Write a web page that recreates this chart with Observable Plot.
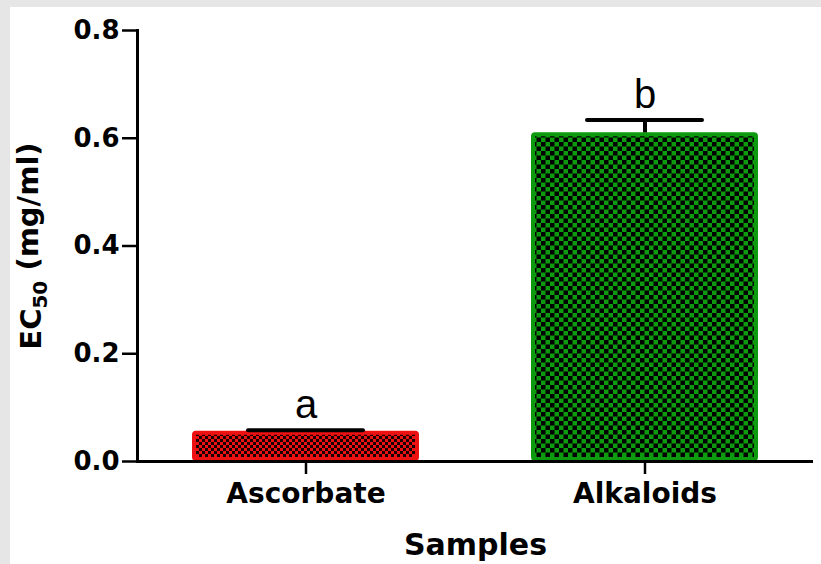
<!DOCTYPE html>
<html>
<head>
<meta charset="utf-8">
<script src="https://cdn.jsdelivr.net/npm/d3@7"></script>
<script src="https://cdn.jsdelivr.net/npm/@observablehq/plot@0.6"></script>
<style>
  html, body { margin: 0; padding: 0; background: #e6e6e6; }
  #chart { position: absolute; left: 10px; top: 7px; width: 811px; height: 557px; background: #fff; }
</style>
</head>
<body>
<div id="chart"></div>
<script>
// EC50 values (mg/ml) with error and significance letters
const samples = ["Ascorbate", "Alkaloids"];
const ec50 = [0.056, 0.61];
const errors = [0.002, 0.024];
const letters = ["a", "b"];
const barColors = ["#ee1111", "#0e9a0e"];
const patternIds = ["dots-red", "check-green"];
const yTicks = [0, 0.2, 0.4, 0.6, 0.8];
const yTitle = ["EC", "50", " (mg/ml)"];   // main, subscript, unit
const xTitle = "Samples";

const rows = samples.map((s, i) => ({
  sample: s,
  ec50: ec50[i],
  top: ec50[i] + errors[i],
  letter: letters[i]
}));

const bars = samples.map((s, i) =>
  Plot.barY([rows[i]], {
    x: "sample",
    y: "ec50",
    fill: `url(#${patternIds[i]})`,
    stroke: barColors[i],
    strokeWidth: 4,
    inset: 2,
    rx: 2
  })
);

const chart = Plot.plot({
  width: 811,
  height: 557,
  marginLeft: 127,
  marginRight: 8,
  marginTop: 23,
  marginBottom: 103,
  style: { fontFamily: "'DejaVu Sans', sans-serif", background: "white", overflow: "visible", color: "black" },
  x: { domain: samples, paddingInner: 0.33, paddingOuter: 0.16 },
  y: { domain: [0, 0.8] },
  marks: [
    ...bars,
    // error bars: stem and cap
    Plot.ruleX(rows, { x: "sample", y1: "ec50", y2: "top", strokeWidth: 4 }),
    Plot.tickY(rows, { x: "sample", y: "top", strokeWidth: 4, strokeLinecap: "round", insetLeft: 56, insetRight: 56 }),
    // significance letters
    Plot.text(rows, {
      x: "sample", y: "top", text: "letter",
      lineAnchor: "bottom", dy: -12,
      fontSize: 40, fontFamily: "'Liberation Sans', sans-serif", fontWeight: "normal"
    }),
    Plot.axisY({
      ticks: yTicks, tickFormat: ".1f", tickSize: 15, tickPadding: 3,
      fontSize: 26, fontWeight: "bold", strokeWidth: 2.5, label: null
    }),
    Plot.axisX({
      tickSize: 13, tickPadding: 9, fontSize: 28, fontWeight: "bold",
      strokeWidth: 2.5, label: null
    }),
    Plot.frame({ anchor: "left", strokeWidth: 3 }),
    Plot.ruleY([0], { strokeWidth: 3 }),
    // axis titles
    Plot.text([yTitle.join("")], {
      text: d => d, frameAnchor: "left", textAnchor: "middle", rotate: -90, dx: -97,
      lineAnchor: "bottom", fontSize: 29, fontWeight: "bold"
    }),
    Plot.text([xTitle], {
      text: d => d, frameAnchor: "bottom", dy: 72,
      lineAnchor: "top", fontSize: 30, fontWeight: "bold"
    })
  ]
});

// subscript in the y-axis title
d3.select(chart).selectAll("text")
  .filter(function () { return this.textContent === yTitle.join(""); })
  .each(function () {
    const t = d3.select(this).text(null);
    t.append("tspan").text(yTitle[0]);
    t.append("tspan").attr("font-size", 20).attr("dy", "0.3em").text(yTitle[1]);
    t.append("tspan").attr("dy", "-0.3em").text(yTitle[2]);
  });

// fill patterns for the bars
const defs = d3.select(chart).insert("defs", ":first-child");

const red = defs.append("pattern")
  .attr("id", patternIds[0])
  .attr("patternUnits", "userSpaceOnUse")
  .attr("width", 6).attr("height", 6);
red.append("rect").attr("width", 6).attr("height", 6).attr("fill", barColors[0]);
red.append("rect").attr("width", 3).attr("height", 3).attr("fill", "#1a0000");
red.append("rect").attr("x", 3).attr("y", 3).attr("width", 3).attr("height", 3).attr("fill", "#1a0000");

const green = defs.append("pattern")
  .attr("id", patternIds[1])
  .attr("patternUnits", "userSpaceOnUse")
  .attr("width", 9).attr("height", 9);
green.append("rect").attr("width", 9).attr("height", 9).attr("fill", barColors[1]);
green.append("rect").attr("width", 4.5).attr("height", 4.5).attr("fill", "#000");
green.append("rect").attr("x", 4.5).attr("y", 4.5).attr("width", 4.5).attr("height", 4.5).attr("fill", "#000");

document.getElementById("chart").appendChild(chart);
</script>
</body>
</html>
